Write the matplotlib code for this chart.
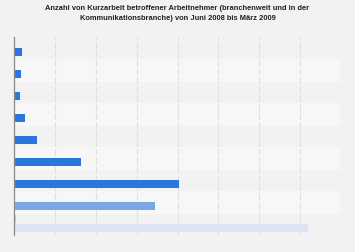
import matplotlib.pyplot as plt
import numpy as np

# months June 2008 .. March 2009
months = ["Jun 08", "Jul 08", "Aug 08", "Sep 08", "Okt 08",
          "Nov 08", "Dez 08", "Jan 09", "Feb 09"]
branchenweit = [37, 34, 27, 54, 112, 328, 807, 690, 1438]
kommunikation = [0, 0, 0, 0, 0, 0, 5, 0, 10]

colors_b = ["#2a76dd"] * 7 + ["#7ba7e6", "#dbe4f2"]
colors_k = ["#1e2d3d"] * 8 + ["#cccccc"]

fig = plt.figure(figsize=(3.55, 2.53), dpi=100)
fig.patch.set_facecolor("#f2f2f2")
ax = fig.add_axes([14 / 355, 1 - 236 / 253, 327 / 355, 198 / 253])
ax.set_facecolor("#f2f2f2")

y = np.arange(len(months))
for i in y:
    if i % 2 == 1:
        ax.axhspan(i - 0.5, i + 0.5, color="#f7f7f7", zorder=0)

ax.barh(y - 0.21, kommunikation, height=0.37, color=colors_k, zorder=3)
ax.barh(y + 0.19, branchenweit, height=0.37, color=colors_b, zorder=3)

ax.set_xlim(0, 1600)
ax.set_ylim(len(months) - 0.5, -0.5)
ax.set_xticks(np.arange(0, 1601, 200))
ax.set_yticks([])
ax.tick_params(axis="x", length=0, labelbottom=False)
ax.grid(axis="x", color="#e0e0e0", linewidth=0.8, linestyle=(0, (6, 2)), zorder=1)

for s in ["top", "right", "bottom"]:
    ax.spines[s].set_visible(False)
ax.spines["left"].set_color("#8a8a8a")
ax.spines["left"].set_linewidth(0.9)
ax.spines["left"].set_zorder(4)

fig.text(0.5, 1 - 13.5 / 253,
         "Anzahl von Kurzarbeit betroffener Arbeitnehmer (branchenweit und in der\n"
         "Kommunikationsbranche) von Juni 2008 bis März 2009",
         ha="center", va="center", fontsize=5.4, fontweight="bold",
         family="Liberation Sans", color="#222222", linespacing=1.55)

fig.savefig("out.png", dpi=100, facecolor=fig.get_facecolor())
